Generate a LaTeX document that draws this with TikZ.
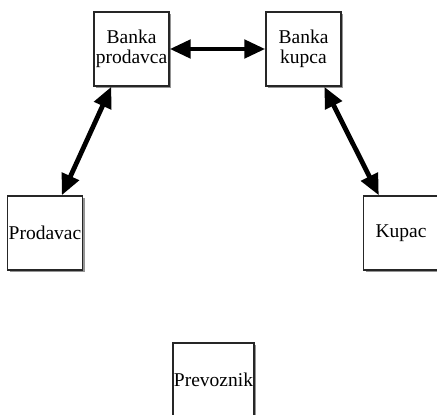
\documentclass[tikz,border=0pt]{standalone}
\usepackage{fontspec}
\setmainfont{Liberation Serif}
\usetikzlibrary{arrows.meta,shadows}
\begin{document}
\begin{tikzpicture}[x=1pt,y=-1pt,
  party/.style={draw=black!85, line width=1.4pt, fill=white,
    minimum width=75pt, minimum height=74pt, inner sep=0pt, align=center,
    font=\fontsize{19.5}{20}\selectfont, text=black,
    drop shadow={shadow xshift=2pt, shadow yshift=-2pt, fill=black!70, opacity=.6}},
  link/.style={line width=4.8pt,
    {Triangle[length=21pt,width=18pt]}-{Triangle[length=21pt,width=18pt]}}]
\useasboundingbox (0,0) rectangle (437,415);

% parties of the transaction
\node[party] (bp) at (131.5,49) {Banka\\prodavca};
\node[party] (bk) at (303.5,49) {Banka\\kupca};
\node[party] (pr) at (45,233) {Prodavac};
\node[party] (ku) at (401,233) {Kupac};
\node[party, minimum width=81pt] (pv) at (213.5,380) {Prevoznik};

% two-way links
\draw[link] (bp.east) -- (bk.west);
\draw[link] ([xshift=18pt]bp.south west) -- ([xshift=55pt]pr.north west);
\draw[link] ([xshift=59pt]bk.south west) -- ([xshift=16pt]ku.north west);
\end{tikzpicture}
\end{document}
